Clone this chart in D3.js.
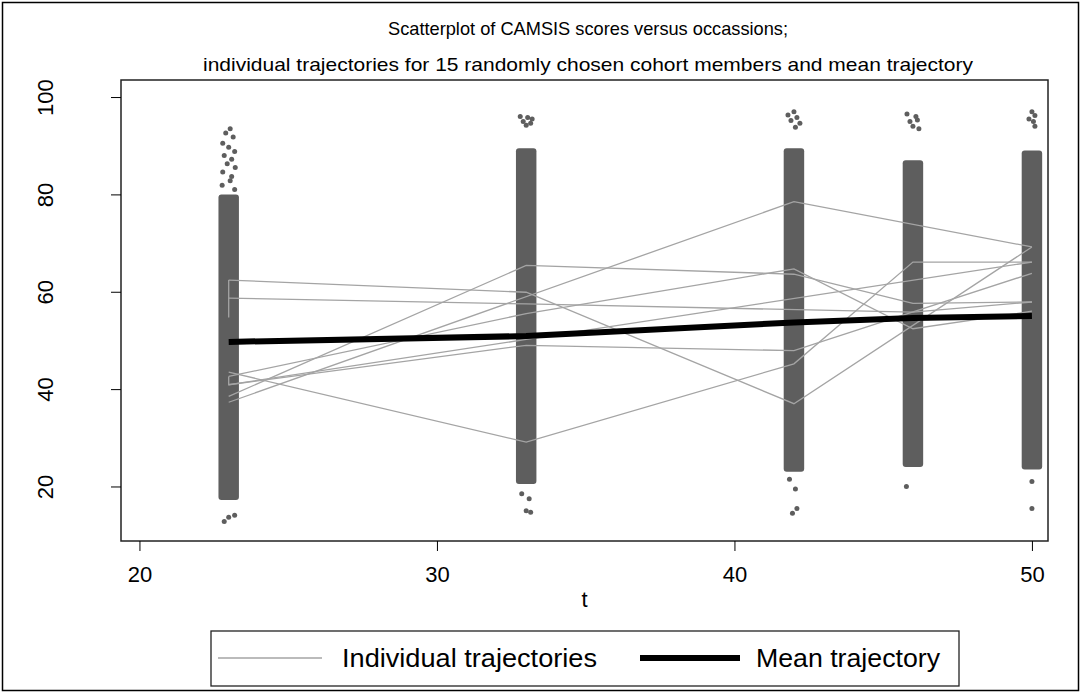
<!DOCTYPE html>
<html>
<head>
<meta charset="utf-8">
<script src="https://cdn.jsdelivr.net/npm/d3@7"></script>
<style>
  body { margin: 0; background: #fff; }
  text { font-family: "Liberation Sans", Arial, sans-serif; fill: #000; }
</style>
</head>
<body>
<svg id="chart" width="1082" height="693"></svg>
<script>
// occasions (age at interview)
const waves = [23, 33, 42, 46, 50];
const meanScore = [49.7, 50.9, 53.7, 54.6, 55.0];

// dense part of each column of CAMSIS scores
const bodyLow = [17.2, 20.5, 23.0, 24.0, 23.5];
const bodyHigh = [80.0, 89.5, 89.5, 87.0, 89.0];

// sparse points outside the dense part: [offset from wave, score]
const sparse23 = [[0.05,93.5],[-0.1,92.6],[0.15,91.8],[-0.2,90.5],[0,89.7],[0.2,88.8],[-0.15,88],[0.1,87.2],
  [-0.05,86.3],[0.22,85.5],[-0.2,84.6],[0.1,83.7],[0.05,82.8],[-0.22,81.9],[0.2,81],[0,13.7],[-0.15,12.8],[0.2,14.1]];
const sparse33 = [[-0.2,96],[0.05,95.8],[0.2,95.5],[-0.1,95],[0.15,94.6],[0,94.2],[-0.15,18.5],[0.1,17.5],[0,15],[0.15,14.7]];
const sparse42 = [[0,97],[-0.2,96.3],[0.1,95.8],[-0.1,95.2],[0.2,94.6],[0.05,93.8],[-0.15,21.5],[0.05,19.5],[0.1,15.5],[-0.05,14.5]];
const sparse46 = [[-0.2,96.5],[0.1,96],[0.15,95.3],[-0.1,95],[0,94],[0.2,93.5],[-0.22,20]];
const sparse50 = [[0,97],[0.1,96.2],[-0.1,95.5],[0.05,95],[0.1,94],[0,21],[0,15.5]];
const sparse = [sparse23, sparse33, sparse42, sparse46, sparse50];

// individual trajectories, [t, score]
const traj1 = [[23,37.3],[42,78.5],[50,69.2]];
const traj2 = [[23,38.5],[33,65.4],[42,63.6],[46,57.6],[50,57.9]];
const traj3 = [[23,62.4],[33,59.9],[42,37.0],[50,69.2]];
const traj4 = [[23,43.5],[33,29.1],[42,45.2],[46,66.1],[50,66.1]];
const traj5 = [[23,58.7],[33,57.5],[46,55.8],[50,57.9]];
const traj6 = [[23,42.6],[33,55.5],[42,64.7],[46,52.4],[50,56.0]];
const traj7 = [[23,40.9],[33,49.0],[42,47.9],[50,63.8]];
const traj8 = [[23,54.7],[23,62.4]];
const traj9 = [[23,42.6],[23,40.9],[33,50.2],[50,66.1]];
const trajectories = [traj1, traj2, traj3, traj4, traj5, traj6, traj7, traj8, traj9];

const xTicks = [20, 30, 40, 50];
const yTicks = [20, 40, 60, 80, 100];

const svg = d3.select("#chart");
const pLeft = 121, pRight = 1048, pTop = 80, pBottom = 541;
const jitter = 0.26, r = 2.5;

const x = d3.scaleLinear().domain([19.38, 50.54]).range([pLeft, pRight]);
const y = d3.scaleLinear().domain([8.8, 103.5]).range([pBottom, pTop]);

// outer border
svg.append("rect").attr("x", 2.5).attr("y", 2.5).attr("width", 1076).attr("height", 688)
  .attr("fill", "none").attr("stroke", "#000").attr("stroke-width", 1.5);

// titles (stata draws a narrow face, so squeeze to the measured width)
svg.append("text").attr("x", 588).attr("y", 35).attr("text-anchor", "middle")
  .attr("textLength", 400).attr("lengthAdjust", "spacingAndGlyphs")
  .style("font-size", "19px").text("Scatterplot of CAMSIS scores versus occassions;");
svg.append("text").attr("x", 588).attr("y", 71).attr("text-anchor", "middle")
  .attr("textLength", 770).attr("lengthAdjust", "spacingAndGlyphs")
  .style("font-size", "19px").text("individual trajectories for 15 randomly chosen cohort members and mean trajectory");

// scatter columns
const pts = svg.append("g").attr("fill", "#5e5e5e");
waves.forEach(function(w, i) {
  pts.append("rect")
    .attr("x", x(w - jitter) - r).attr("width", x(w + jitter) - x(w - jitter) + 2 * r)
    .attr("y", y(bodyHigh[i])).attr("height", y(bodyLow[i]) - y(bodyHigh[i]))
    .attr("rx", 3);
  pts.selectAll(null).data(sparse[i]).enter().append("circle")
    .attr("cx", d => x(w + d[0])).attr("cy", d => y(d[1])).attr("r", r);
});

// trajectories
const line = d3.line().x(d => x(d[0])).y(d => y(d[1]));
svg.append("g").selectAll("path").data(trajectories).enter().append("path")
  .attr("d", line).attr("fill", "none").attr("stroke", "#a4a4a4").attr("stroke-width", 1.3);

svg.append("path").datum(waves.map((w, i) => [w, meanScore[i]]))
  .attr("d", line).attr("fill", "none").attr("stroke", "#000").attr("stroke-width", 6);

// frame
svg.append("rect").attr("x", pLeft).attr("y", pTop).attr("width", pRight - pLeft).attr("height", pBottom - pTop)
  .attr("fill", "none").attr("stroke", "#222").attr("stroke-width", 1.5);

// axes
const xAxis = svg.append("g").attr("transform", `translate(0,${pBottom})`)
  .call(d3.axisBottom(x).tickValues(xTicks).tickSize(10).tickPadding(15));
xAxis.select(".domain").remove();
xAxis.selectAll("text").style("font-size", "22px");

const yAxis = svg.append("g").attr("transform", `translate(${pLeft},0)`)
  .call(d3.axisLeft(y).tickValues(yTicks).tickSize(10));
yAxis.select(".domain").remove();
yAxis.selectAll(".tick text").style("font-size", "22px")
  .attr("x", 0).attr("dx", 0).attr("dy", 0)
  .attr("text-anchor", "middle")
  .attr("transform", "translate(-68,0) rotate(-90)");

svg.append("text").attr("x", (pLeft + pRight) / 2).attr("y", 607).attr("text-anchor", "middle")
  .style("font-size", "22px").text("t");

// legend
const lg = svg.append("g");
lg.append("rect").attr("x", 211).attr("y", 631).attr("width", 748).attr("height", 55)
  .attr("fill", "none").attr("stroke", "#222").attr("stroke-width", 1.3);
lg.append("line").attr("x1", 218).attr("x2", 322).attr("y1", 658).attr("y2", 658)
  .attr("stroke", "#a4a4a4").attr("stroke-width", 1.3);
lg.append("text").attr("x", 342).attr("y", 667).style("font-size", "25px")
  .attr("textLength", 255).attr("lengthAdjust", "spacingAndGlyphs").text("Individual trajectories");
lg.append("line").attr("x1", 640).attr("x2", 740).attr("y1", 658).attr("y2", 658)
  .attr("stroke", "#000").attr("stroke-width", 6);
lg.append("text").attr("x", 756).attr("y", 667).style("font-size", "25px")
  .attr("textLength", 184).attr("lengthAdjust", "spacingAndGlyphs").text("Mean trajectory");
</script>
</body>
</html>
